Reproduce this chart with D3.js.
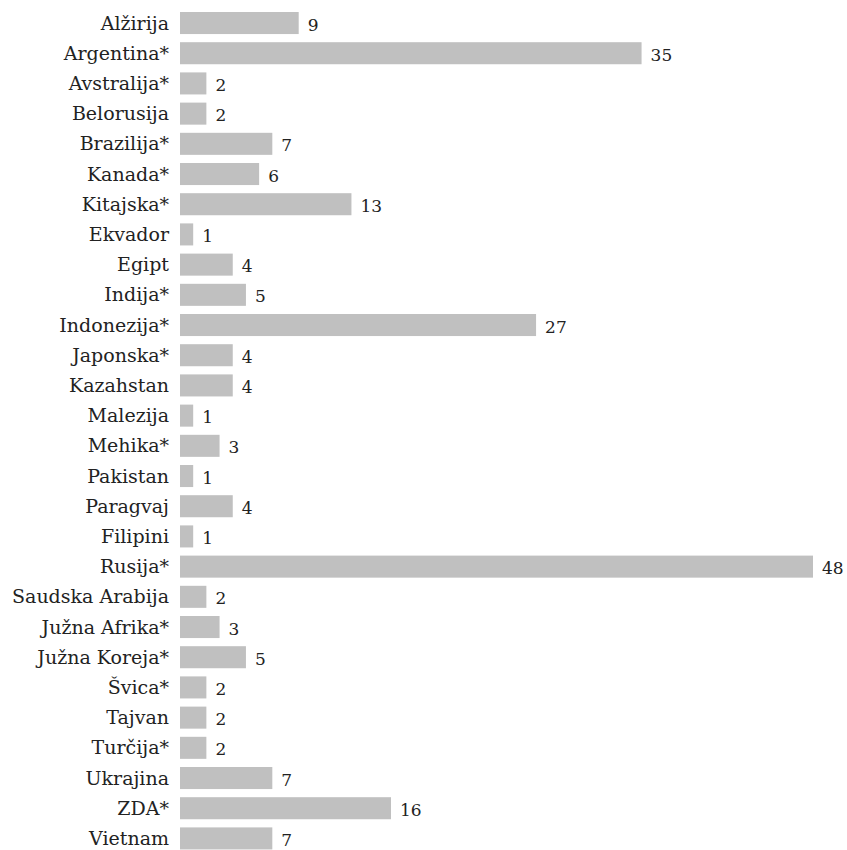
<!DOCTYPE html>
<html>
<head>
<meta charset="utf-8">
<script src="https://cdn.jsdelivr.net/npm/d3@7"></script>
<style>
  html, body { margin: 0; padding: 0; background: #fff; }
  svg { display: block; }
</style>
</head>
<body>
<div id="chart"></div>
<script>
const countries = [
  'Alžirija', 'Argentina*', 'Avstralija*', 'Belorusija', 'Brazilija*', 'Kanada*',
  'Kitajska*', 'Ekvador', 'Egipt', 'Indija*', 'Indonezija*', 'Japonska*',
  'Kazahstan', 'Malezija', 'Mehika*', 'Pakistan', 'Paragvaj', 'Filipini',
  'Rusija*', 'Saudska Arabija', 'Južna Afrika*', 'Južna Koreja*', 'Švica*',
  'Tajvan', 'Turčija*', 'Ukrajina', 'ZDA*', 'Vietnam'
];
const values = [
  9, 35, 2, 2, 7, 6,
  13, 1, 4, 5, 27, 4,
  4, 1, 3, 1, 4, 1,
  48, 2, 3, 5, 2,
  2, 2, 7, 16, 7
];

const W = 847, H = 850;
const COL = { bar: '#c0c0c0', label: '#222', value: '#222' };
const FONT = "DejaVu Serif, Liberation Serif, serif";

const data = countries.map((c, i) => ({ name: c, value: values[i] }));

const svg = d3.select('#chart').append('svg')
  .attr('width', W).attr('height', H)
  .attr('viewBox', `0 0 ${W} ${H}`);

const x = d3.scaleLinear().domain([0, 48]).range([180, 813]);
const step = 30.2;
const y = d3.scaleBand()
  .domain(countries)
  .range([12 - 0.135 * step, 12 - 0.135 * step + countries.length * step])
  .paddingInner(0.27)
  .paddingOuter(0.135);

const rows = svg.append('g').selectAll('g').data(data).enter().append('g');

rows.append('rect')
  .attr('x', x(0))
  .attr('y', d => y(d.name))
  .attr('width', d => x(d.value) - x(0))
  .attr('height', y.bandwidth())
  .attr('fill', COL.bar);

// country names, right aligned before the bars
rows.append('text')
  .text(d => d.name)
  .attr('x', 169)
  .attr('y', d => y(d.name) + y.bandwidth() / 2)
  .attr('dy', '0.35em')
  .attr('text-anchor', 'end')
  .attr('font-family', FONT)
  .attr('font-size', 19)
  .attr('fill', COL.label);

// value labels after the bars
rows.append('text')
  .text(d => d.value)
  .attr('x', d => x(d.value) + 9)
  .attr('y', d => y(d.name) + y.bandwidth() / 2)
  .attr('dy', '0.45em')
  .attr('font-family', FONT)
  .attr('font-size', 17)
  .style('font-variant-numeric', 'oldstyle-nums')
  .attr('fill', COL.value);
</script>
</body>
</html>
